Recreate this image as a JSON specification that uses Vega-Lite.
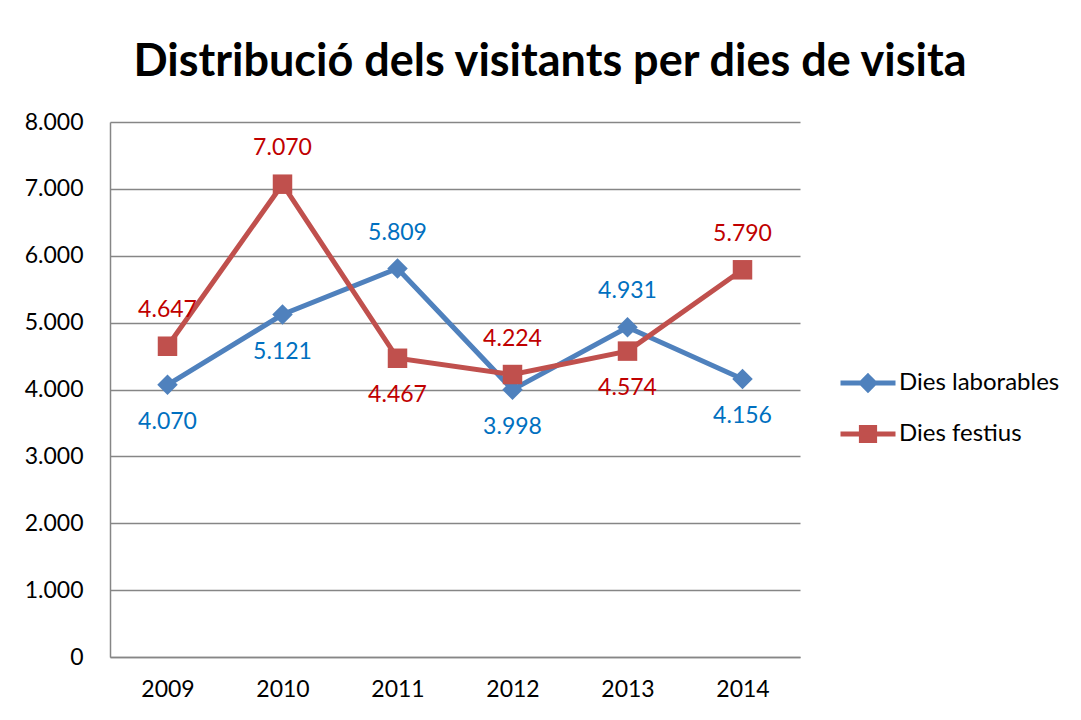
{
  "$schema": "https://vega.github.io/schema/vega-lite/v6.json",
  "width": 690,
  "height": 535,
  "autosize": {"type": "none"},
  "padding": {"left": 110, "top": 122, "right": 281, "bottom": 63},
  "background": "white",
  "config": {
    "locale": {"number": {"decimal": ",", "thousands": ".", "grouping": [3], "currency": ["", " €"]}},
    "view": {"stroke": null},
    "font": "Lato"
  },
  "title": {
    "text": "Distribució dels visitants per dies de visita",
    "fontSize": 45,
    "fontWeight": "bold",
    "font": "Lato",
    "color": "black",
    "anchor": "middle",
    "dx": 95,
    "offset": 26
  },
  "data": {
    "values": [
      {"any": "2009", "serie": "Dies laborables", "visitants": 4070},
      {"any": "2010", "serie": "Dies laborables", "visitants": 5121},
      {"any": "2011", "serie": "Dies laborables", "visitants": 5809},
      {"any": "2012", "serie": "Dies laborables", "visitants": 3998},
      {"any": "2013", "serie": "Dies laborables", "visitants": 4931},
      {"any": "2014", "serie": "Dies laborables", "visitants": 4156},
      {"any": "2009", "serie": "Dies festius", "visitants": 4647},
      {"any": "2010", "serie": "Dies festius", "visitants": 7070},
      {"any": "2011", "serie": "Dies festius", "visitants": 4467},
      {"any": "2012", "serie": "Dies festius", "visitants": 4224},
      {"any": "2013", "serie": "Dies festius", "visitants": 4574},
      {"any": "2014", "serie": "Dies festius", "visitants": 5790}
    ]
  },
  "encoding": {
    "x": {
      "field": "any",
      "type": "ordinal",
      "scale": {"type": "point", "padding": 0.5},
      "axis": {
        "title": null,
        "labelAngle": 0,
        "labelFont": "Lato",
        "labelFontSize": 23,
        "labelColor": "black",
        "labelPadding": 21,
        "ticks": false,
        "domainColor": "#868686",
        "domainWidth": 1.5,
        "grid": false
      }
    },
    "y": {
      "field": "visitants",
      "type": "quantitative",
      "scale": {"domain": [0, 8000], "nice": false},
      "axis": {
        "title": null,
        "values": [0, 1000, 2000, 3000, 4000, 5000, 6000, 7000, 8000],
        "format": ",d",
        "labelFont": "Lato",
        "labelFontSize": 23,
        "labelColor": "black",
        "labelPadding": 27,
        "ticks": false,
        "domainColor": "#868686",
        "domainWidth": 1.5,
        "grid": true,
        "gridColor": "#868686",
        "gridWidth": 1.5
      }
    }
  },
  "layer": [
    {
      "mark": {"type": "line", "strokeWidth": 5},
      "encoding": {
        "color": {
          "field": "serie",
          "type": "nominal",
          "scale": {"domain": ["Dies laborables", "Dies festius"], "range": ["#4F81BD", "#C0504D"]},
          "legend": {
            "title": null,
            "orient": "none",
            "legendX": 728,
            "legendY": 231,
            "padding": 0,
            "labelFont": "Lato",
            "labelFontSize": 24,
            "labelColor": "black",
            "labelOffset": 1,
            "labelLimit": 0,
            "symbolSize": 3025,
            "rowPadding": 4,
            "symbolStrokeWidth": 5,
            "encode": {
              "symbols": {
                "update": {
                  "shape": {"signal": "datum.value === 'Dies laborables' ? 'M-1,0H1M0,-0.24L0.24,0L0,0.24L-0.24,0Z' : 'M-1,0H1M-0.24,-0.24H0.24V0.24H-0.24Z'"},
                  "fill": {"signal": "datum.value === 'Dies laborables' ? '#4F81BD' : '#C0504D'"},
                  "stroke": {"signal": "datum.value === 'Dies laborables' ? '#4F81BD' : '#C0504D'"},
                  "strokeWidth": {"value": 5},
                  "size": {"value": 3025},
                  "opacity": {"value": 1}
                }
              }
            }
          }
        }
      }
    },
    {
      "mark": {"type": "point", "filled": true, "opacity": 1},
      "encoding": {
        "color": {"field": "serie", "type": "nominal"},
        "shape": {"condition": {"test": "datum.serie === 'Dies laborables'", "value": "diamond"}, "value": "square"},
        "size": {"condition": {"test": "datum.serie === 'Dies laborables'", "value": 420}, "value": 380}
      }
    },
    {
      "transform": [
        {"joinaggregate": [{"op": "max", "field": "visitants", "as": "maxany"}], "groupby": ["any"]},
        {"filter": "datum.visitants === datum.maxany"}
      ],
      "mark": {"type": "text", "dy": -36, "fontSize": 23, "font": "Lato", "baseline": "middle"},
      "encoding": {
        "text": {"field": "visitants", "type": "quantitative", "format": ",d"},
        "color": {"condition": {"test": "datum.serie === 'Dies laborables'", "value": "#0070C0"}, "value": "#C00000"}
      }
    },
    {
      "transform": [
        {"joinaggregate": [{"op": "max", "field": "visitants", "as": "maxany"}], "groupby": ["any"]},
        {"filter": "datum.visitants < datum.maxany"}
      ],
      "mark": {"type": "text", "dy": 37, "fontSize": 23, "font": "Lato", "baseline": "middle"},
      "encoding": {
        "text": {"field": "visitants", "type": "quantitative", "format": ",d"},
        "color": {"condition": {"test": "datum.serie === 'Dies laborables'", "value": "#0070C0"}, "value": "#C00000"}
      }
    }
  ]
}
